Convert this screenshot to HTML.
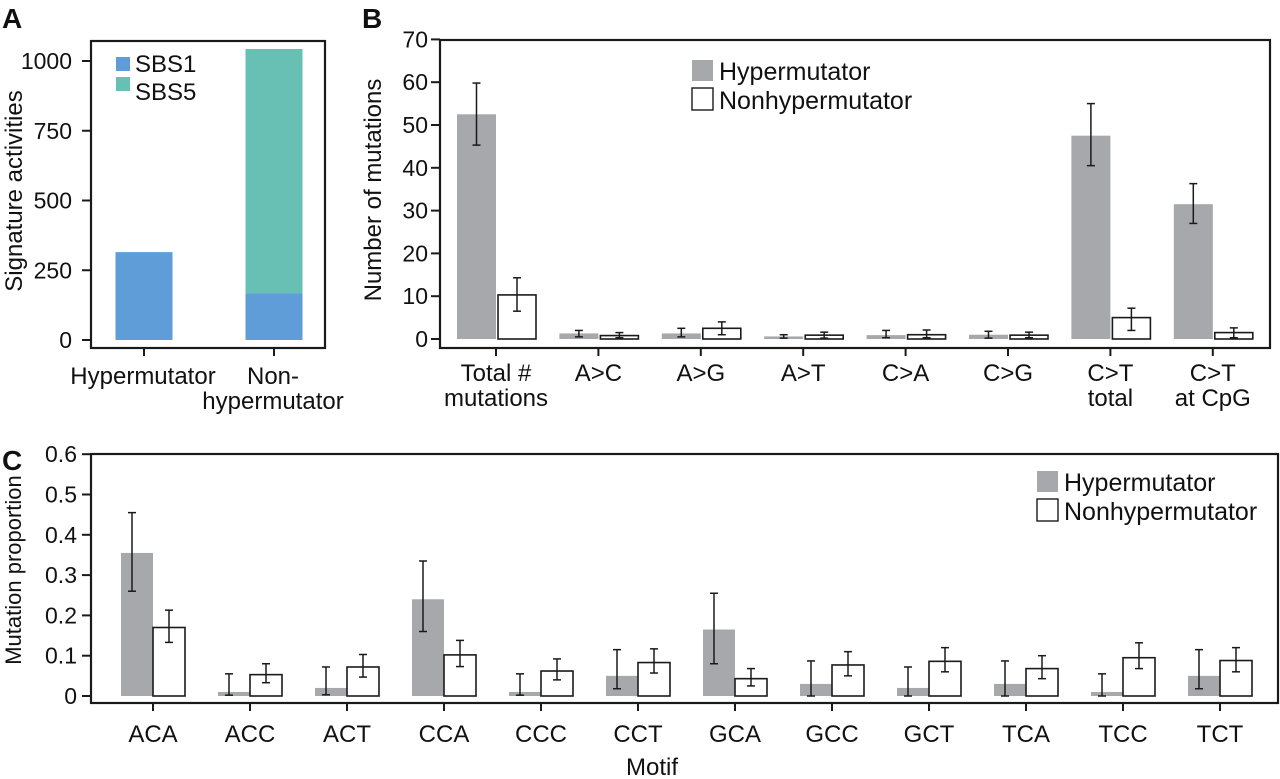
<!DOCTYPE html>
<html><head><meta charset="utf-8"><style>
html,body{margin:0;padding:0;background:#fff;}
svg{display:block;font-family:"Liberation Sans",Arial,sans-serif;}
</style></head><body>
<svg id="fig" width="1280" height="779" viewBox="0 0 1280 779" xmlns="http://www.w3.org/2000/svg"></svg>
<script>
// Panel A data
const aCats = ["Hypermutator", "Non-hypermutator"];
const aSBS1 = [315, 168];
const aSBS5 = [0, 875];
const aTicks = [0, 250, 500, 750, 1000];
// Panel B data
const bCats = ["Total #|mutations", "A>C", "A>G", "A>T", "C>A", "C>G", "C>T|total", "C>T|at CpG"];
const bHyper = [52.5, 1.3, 1.3, 0.6, 0.9, 1.0, 47.5, 31.5];
const bHyperLo = [45.3, 0.5, 0.5, 0.2, 0.3, 0.2, 40.5, 27];
const bHyperHi = [59.8, 2.0, 2.5, 1.0, 2.0, 1.8, 55, 36.3];
const bNon = [10.3, 0.8, 2.5, 0.9, 1.0, 0.9, 5.0, 1.5];
const bNonLo = [6.5, 0.3, 1.0, 0.2, 0.3, 0.3, 2.0, 0.3];
const bNonHi = [14.3, 1.5, 4.0, 1.6, 2.1, 1.6, 7.2, 2.6];
const bTicks = [0, 10, 20, 30, 40, 50, 60, 70];
// Panel C data
const cCats = ["ACA","ACC","ACT","CCA","CCC","CCT","GCA","GCC","GCT","TCA","TCC","TCT"];
const cHyper = [0.355, 0.01, 0.02, 0.24, 0.01, 0.05, 0.165, 0.03, 0.02, 0.03, 0.01, 0.05];
const cHyperLo = [0.26, 0.002, 0.003, 0.16, 0.002, 0.018, 0.08, 0.0, 0.0, 0.0, 0.0, 0.018];
const cHyperHi = [0.455, 0.055, 0.072, 0.335, 0.055, 0.115, 0.255, 0.087, 0.072, 0.087, 0.055, 0.115];
const cNon = [0.17, 0.053, 0.072, 0.102, 0.062, 0.083, 0.043, 0.077, 0.086, 0.068, 0.095, 0.088];
const cNonLo = [0.133, 0.033, 0.047, 0.073, 0.04, 0.057, 0.025, 0.05, 0.06, 0.043, 0.068, 0.06];
const cNonHi = [0.213, 0.08, 0.103, 0.138, 0.092, 0.117, 0.068, 0.11, 0.12, 0.1, 0.132, 0.12];
const cTicks = [0, 0.1, 0.2, 0.3, 0.4, 0.5, 0.6];

const NS = "http://www.w3.org/2000/svg";
const svg = document.getElementById("fig");
const FS = 24, TFS = 23;
function mk(tag, attrs, parent, name, inter) {
  const e = document.createElementNS(NS, tag);
  for (const k in attrs) e.setAttribute(k, attrs[k]);
  
  
  (parent || svg).appendChild(e);
  return e;
}
function txt(x, y, s, attrs, name, parent) {
  const t = mk("text", Object.assign({x: x, y: y, "font-size": FS, fill: "#111"}, attrs || {}), parent, name, false);
  t.textContent = s;
  return t;
}
const GRAY = "#a7a8ab", LINE = "#1a1a1a";
function errbar(g, x, lo, hi, cap, name) {
  mk("line", {x1: x, x2: x, y1: lo, y2: hi, stroke: LINE, "stroke-width": 1.5}, g, name, false);
  mk("line", {x1: x - cap, x2: x + cap, y1: hi, y2: hi, stroke: LINE, "stroke-width": 1.5}, g, name + "-cap-top", false);
  mk("line", {x1: x - cap, x2: x + cap, y1: lo, y2: lo, stroke: LINE, "stroke-width": 1.5}, g, name + "-cap-bottom", false);
}

// ---------- Panel A ----------
(function () {
  const g = mk("g", {}, svg, "panel-a", false);
  txt(2, 28, "A", {"font-size": 28, "font-weight": "bold"}, "panel-a-label", g);
  const L = 91, R = 325, T = 41, B = 348, y0 = 340, y1000 = 61;
  const y = v => y0 - (v / 1000) * (y0 - y1000);
  const centers = [144, 274], bw = 57;
  aCats.forEach((c, i) => {
    const x = centers[i] - bw / 2;
    mk("rect", {x: x, y: y(aSBS1[i]), width: bw, height: y0 - y(aSBS1[i]), fill: "#5e9dd8"}, g, "bar-sbs1-" + i, false);
    if (aSBS5[i] > 0) {
      mk("rect", {x: x, y: y(aSBS1[i] + aSBS5[i]), width: bw, height: y(aSBS1[i]) - y(aSBS1[i] + aSBS5[i]), fill: "#67c0b3"}, g, "bar-sbs5-" + i, false);
    }
    mk("line", {x1: centers[i], x2: centers[i], y1: B, y2: B + 8, stroke: LINE, "stroke-width": 2}, g, "x-tick-a", false);
  });
  mk("rect", {x: L, y: T, width: R - L, height: B - T, fill: "none", stroke: LINE, "stroke-width": 2.2}, g, "plot-frame-a", false);
  aTicks.forEach(t => {
    mk("line", {x1: L - 9, x2: L, y1: y(t), y2: y(t), stroke: LINE, "stroke-width": 2}, g, "y-tick-a", false);
    txt(L - 19, y(t) + 8, String(t), {"text-anchor": "end", "font-size": TFS}, "y-tick-label-a", g);
  });
  txt(143, 384, "Hypermutator", {"text-anchor": "middle"}, "x-label-hypermutator", g);
  txt(273, 384, "Non-", {"text-anchor": "middle"}, "x-label-non", g);
  txt(273, 409, "hypermutator", {"text-anchor": "middle"}, "x-label-non-line2", g);
  txt(22, 191, "Signature activities", {"text-anchor": "middle", transform: "rotate(-90 22 191)"}, "y-axis-title-a", g);
  mk("rect", {x: 116, y: 57, width: 14, height: 14, fill: "#5e9dd8"}, g, "legend-swatch-sbs1", false);
  txt(135, 72, "SBS1", {}, "legend-label-sbs1", g);
  mk("rect", {x: 116, y: 77, width: 14, height: 14, fill: "#67c0b3"}, g, "legend-swatch-sbs5", false);
  txt(135, 100, "SBS5", {}, "legend-label-sbs5", g);
})();

// ---------- Panel B ----------
(function () {
  const g = mk("g", {}, svg, "panel-b", false);
  txt(362, 28, "B", {"font-size": 28, "font-weight": "bold"}, "panel-b-label", g);
  const L = 440, R = 1270, T = 40, B = 348, y0 = 339, ppu = 4.28;
  const y = v => y0 - v * ppu;
  const x0 = 496, step = 102.4, bw = 39;
  bCats.forEach((c, i) => {
    const cx = x0 + i * step;
    mk("rect", {x: cx - bw, y: y(bHyper[i]), width: bw, height: bHyper[i] * ppu, fill: GRAY}, g, "bar-hyper-b-" + i, false);
    mk("rect", {x: cx + 2, y: y(bNon[i]), width: bw - 1, height: bNon[i] * ppu, fill: "#fff", stroke: LINE, "stroke-width": 1.6}, g, "bar-non-b-" + i, false);
    errbar(g, cx - bw / 2, y(bHyperLo[i]), y(bHyperHi[i]), 4, "errorbar-hyper-b");
    errbar(g, cx + 2 + (bw - 1) / 2, y(bNonLo[i]), y(bNonHi[i]), 4, "errorbar-non-b");
    mk("line", {x1: cx, x2: cx, y1: B, y2: B + 8, stroke: LINE, "stroke-width": 2}, g, "x-tick-b", false);
    const parts = c.split("|");
    parts.forEach((p, k) => txt(cx, 381 + k * 25, p, {"text-anchor": "middle"}, "x-label-b", g));
  });
  mk("rect", {x: L, y: T, width: R - L, height: B - T, fill: "none", stroke: LINE, "stroke-width": 2.2}, g, "plot-frame-b", false);
  bTicks.forEach(t => {
    mk("line", {x1: L - 9, x2: L, y1: y(t), y2: y(t), stroke: LINE, "stroke-width": 2}, g, "y-tick-b", false);
    txt(L - 12, y(t) + 8, String(t), {"text-anchor": "end", "font-size": TFS}, "y-tick-label-b", g);
  });
  txt(381, 190, "Number of mutations", {"text-anchor": "middle", transform: "rotate(-90 381 190)"}, "y-axis-title-b", g);
  mk("rect", {x: 692, y: 60, width: 21, height: 21, fill: GRAY}, g, "legend-swatch-hyper-b", false);
  txt(719, 80, "Hypermutator", {"font-size": 25}, "legend-label-hyper-b", g);
  mk("rect", {x: 692, y: 88, width: 21, height: 22, fill: "#fff", stroke: LINE, "stroke-width": 1.4}, g, "legend-swatch-non-b", false);
  txt(719, 109, "Nonhypermutator", {"font-size": 25}, "legend-label-non-b", g);
})();

// ---------- Panel C ----------
(function () {
  const g = mk("g", {}, svg, "panel-c", false);
  txt(2, 470, "C", {"font-size": 28, "font-weight": "bold"}, "panel-c-label", g);
  const L = 91, R = 1278, T = 454, B = 703, y0 = 696, ppu = 403;
  const y = v => y0 - v * ppu;
  const x0 = 153, step = 97, bw = 32;
  cCats.forEach((c, i) => {
    const cx = x0 + i * step;
    mk("rect", {x: cx - bw, y: y(cHyper[i]), width: bw, height: cHyper[i] * ppu, fill: GRAY}, g, "bar-hyper-c-" + i, false);
    mk("rect", {x: cx, y: y(cNon[i]), width: bw, height: cNon[i] * ppu, fill: "#fff", stroke: LINE, "stroke-width": 1.6}, g, "bar-non-c-" + i, false);
    errbar(g, cx - bw / 2 - 5, y(cHyperLo[i]), y(cHyperHi[i]), 4, "errorbar-hyper-c");
    errbar(g, cx + bw / 2, y(cNonLo[i]), y(cNonHi[i]), 4, "errorbar-non-c");
    mk("line", {x1: cx, x2: cx, y1: B, y2: B + 8, stroke: LINE, "stroke-width": 2}, g, "x-tick-c", false);
    txt(cx, 742, c, {"text-anchor": "middle"}, "x-label-c", g);
  });
  mk("rect", {x: L, y: T, width: R - L, height: B - T, fill: "none", stroke: LINE, "stroke-width": 2.2}, g, "plot-frame-c", false);
  cTicks.forEach(t => {
    mk("line", {x1: L - 9, x2: L, y1: y(t), y2: y(t), stroke: LINE, "stroke-width": 2}, g, "y-tick-c", false);
    txt(L - 14, y(t) + 8, t === 0 ? "0" : t.toFixed(1), {"text-anchor": "end", "font-size": TFS}, "y-tick-label-c", g);
  });
  txt(652, 775, "Motif", {"text-anchor": "middle"}, "x-axis-title-c", g);
  txt(21, 570, "Mutation proportion", {"text-anchor": "middle", "font-size": 22, transform: "rotate(-90 21 570)"}, "y-axis-title-c", g);
  mk("rect", {x: 1037, y: 471, width: 21, height: 21, fill: GRAY}, g, "legend-swatch-hyper-c", false);
  txt(1064, 491, "Hypermutator", {"font-size": 25}, "legend-label-hyper-c", g);
  mk("rect", {x: 1037, y: 499, width: 21, height: 22, fill: "#fff", stroke: LINE, "stroke-width": 1.4}, g, "legend-swatch-non-c", false);
  txt(1064, 520, "Nonhypermutator", {"font-size": 25}, "legend-label-non-c", g);
})();
</script>
</body></html>
